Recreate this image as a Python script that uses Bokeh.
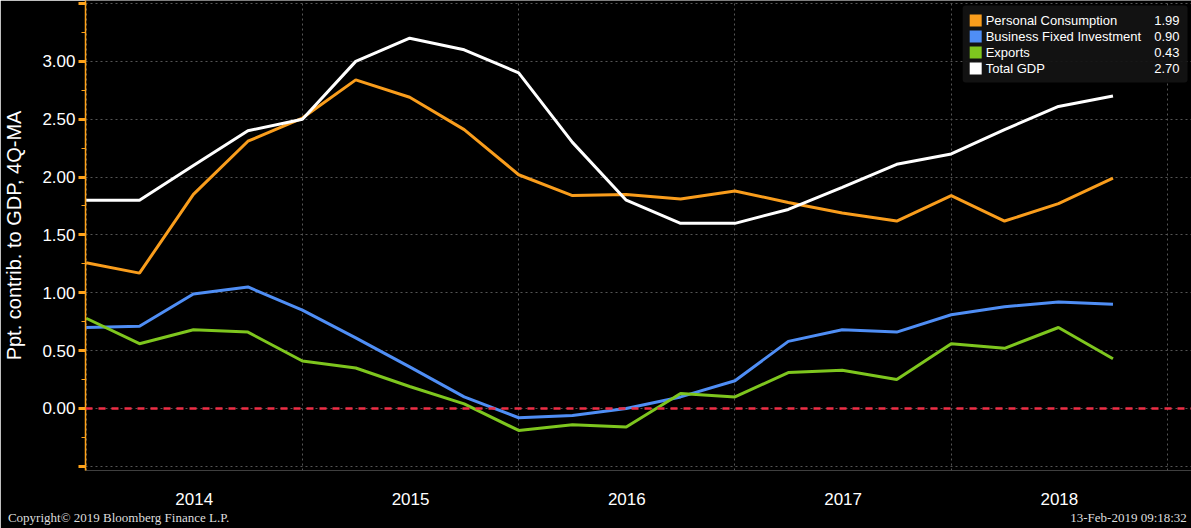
import pandas as pd
from bokeh.plotting import figure
from bokeh.models import (FixedTicker, Span, BoxAnnotation, Range1d, ColumnDataSource,
                          LinearAxis)
from bokeh.core.properties import value
from bokeh.embed import file_html
from bokeh.resources import INLINE

# ---------------- data ----------------
dates = ["2013-12-31", "2014-03-31", "2014-06-30", "2014-09-30", "2014-12-31",
         "2015-03-31", "2015-06-30", "2015-09-30", "2015-12-31",
         "2016-03-31", "2016-06-30", "2016-09-30", "2016-12-31",
         "2017-03-31", "2017-06-30", "2017-09-30", "2017-12-31",
         "2018-03-31", "2018-06-30", "2018-09-30"]
personal = [1.26, 1.17, 1.85, 2.31, 2.51, 2.84, 2.69, 2.41, 2.02, 1.84,
            1.85, 1.81, 1.88, 1.78, 1.69, 1.62, 1.84, 1.62, 1.77, 1.99]
business = [0.70, 0.71, 0.99, 1.05, 0.85, 0.61, 0.36, 0.10, -0.08, -0.06,
            0.00, 0.10, 0.24, 0.58, 0.68, 0.66, 0.81, 0.88, 0.92, 0.90]
exports = [0.78, 0.56, 0.68, 0.66, 0.41, 0.35, 0.19, 0.04, -0.19, -0.14,
           -0.16, 0.13, 0.10, 0.31, 0.33, 0.25, 0.56, 0.52, 0.70, 0.43]
total = [1.80, 1.80, 2.10, 2.40, 2.50, 3.00, 3.20, 3.10, 2.90, 2.30,
         1.80, 1.60, 1.60, 1.72, 1.91, 2.11, 2.20, 2.41, 2.61, 2.70]

series_names = ["Personal Consumption", "Business Fixed Investment", "Exports", "Total GDP"]
series_values = [personal, business, exports, total]
series_colors = ["#F99D1C", "#4F8EF5", "#7EC61E", "#FFFFFF"]
last_labels = ["1.99", "0.90", "0.43", "2.70"]

year_ticks = [2014.5, 2015.5, 2016.5, 2017.5, 2018.5]
year_labels = ["2014", "2015", "2016", "2017", "2018"]
year_bounds = [2014, 2015, 2016, 2017, 2018, 2019]
y_ticks = [-0.5, 0.0, 0.5, 1.0, 1.5, 2.0, 2.5, 3.0, 3.5]
y_minor = [-0.25, 0.25, 0.75, 1.25, 1.75, 2.25, 2.75, 3.25]

copyright_text = "Copyright\u00a9 2019 Bloomberg Finance L.P."
stamp_text = "13-Feb-2019 09:18:32"

# decimal-year x positions from the dates
d = pd.to_datetime(dates)
xs = list(d.year + d.dayofyear / (365 + d.is_leap_year.astype(int)))

# ---------------- layout constants ----------------
W, H = 1191, 528
X0, X1 = 2013.997, 2019.111
Y0, Y1 = -0.536, 3.526
FL, FT = 84, 0
FW, FH = W - FL, 470


def fx(px):  # picture pixel -> data x
    return X0 + (px - FL) / FW * (X1 - X0)


def fy(py):  # picture pixel -> data y
    return Y1 - (py - FT) / FH * (Y1 - Y0)


p = figure(width=W, height=H, x_range=Range1d(X0, X1), y_range=Range1d(Y0, Y1),
           output_backend="svg", toolbar_location=None,
           min_border_left=FL, min_border_right=0, min_border_top=0,
           min_border_bottom=H - FH)
p.background_fill_color = "black"
p.border_fill_color = "black"
p.outline_line_color = None

# grids
p.xgrid.ticker = FixedTicker(ticks=year_bounds)
p.ygrid.ticker = FixedTicker(ticks=y_ticks)
for g in (p.xgrid, p.ygrid):
    g.grid_line_color = "#555555"
    g.grid_line_dash = "2 3"
    g.grid_line_width = 1

# x axis (years centred in each year band)
xa = p.xaxis[0]
xa.ticker = FixedTicker(ticks=year_ticks)
xa.major_label_overrides = {t: l for t, l in zip(year_ticks, year_labels)}
xa.axis_line_color = None
xa.major_tick_line_color = None
xa.minor_tick_line_color = None
xa.major_tick_out = 0
xa.major_tick_in = 0
xa.minor_tick_out = 0
xa.major_label_standoff = 22
xa.major_label_text_color = "white"
xa.major_label_text_font = "Liberation Sans"
xa.major_label_text_font_size = "17px"

# footer line: copyright (left) and time stamp (right) as a second, bare axis
foot_pos = [round(fx(117), 2), round(fx(1128), 2)]
fa = LinearAxis(ticker=FixedTicker(ticks=foot_pos),
                major_label_overrides={foot_pos[0]: copyright_text, foot_pos[1]: stamp_text},
                axis_line_color=None, major_tick_line_color=None, minor_tick_line_color=None,
                major_tick_out=0, major_tick_in=0, minor_tick_out=0,
                major_label_standoff=2, major_label_text_color="#dddddd",
                major_label_text_font="Liberation Serif", major_label_text_font_size="13px")
p.add_layout(fa, "below")

# y axis
ya = p.yaxis[0]
ya.ticker = FixedTicker(ticks=y_ticks, minor_ticks=y_minor)
ya.major_label_overrides = {t: ("" if t in (-0.5, 3.5) else f"{t:.2f}") for t in y_ticks}
ya.axis_line_color = "#FFA31A"
ya.axis_line_width = 1.5
ya.major_tick_line_color = "#FFA31A"
ya.major_tick_line_width = 3
ya.major_tick_out = 7
ya.major_tick_in = 0
ya.minor_tick_line_color = "#FFA31A"
ya.minor_tick_out = 4
ya.minor_tick_in = 0
ya.major_label_standoff = 3
ya.major_label_text_color = "white"
ya.major_label_text_font = "Liberation Sans"
ya.major_label_text_font_size = "17px"
ya.axis_label = "Ppt. contrib. to GDP, 4Q-MA"
ya.axis_label_text_color = "white"
ya.axis_label_text_font = "Liberation Sans"
ya.axis_label_text_font_size = "20px"
ya.axis_label_text_font_style = "normal"
ya.axis_label_standoff = 14

# zero line
p.add_layout(Span(location=0, dimension="width", line_color="#EE2E45",
                  line_dash="7 6", line_width=2.5))

# series
for vals, col in zip(series_values, series_colors):
    p.line(xs, vals, line_color=col, line_width=3)

# legend box (drawn beneath the legend glyphs)
p.add_layout(BoxAnnotation(left=fx(962), right=fx(1187), top=fy(5), bottom=fy(82),
                           fill_color="#141414", fill_alpha=0.92, line_color=None,
                           border_radius=3, level="underlay"))
row_py = [20, 36, 52, 68]
leg = ColumnDataSource(dict(
    sx=[fx(975)] * 4, tx=[fx(985)] * 4, vx=[fx(1179)] * 4,
    y=[fy(v) for v in row_py], name=series_names, val=last_labels, color=series_colors))
p.scatter("sx", "y", source=leg, marker="square", size=12, color="color", line_color=None)
p.text("tx", "y", text="name", source=leg, text_color="white", text_baseline="middle",
       text_font=value("Liberation Sans"), text_font_size="13px")
p.text("vx", "y", text="val", source=leg, text_color="white", text_baseline="middle",
       text_align="right", text_font=value("Liberation Sans"), text_font_size="13px")

open("out.html", "w").write(file_html(p, INLINE))
